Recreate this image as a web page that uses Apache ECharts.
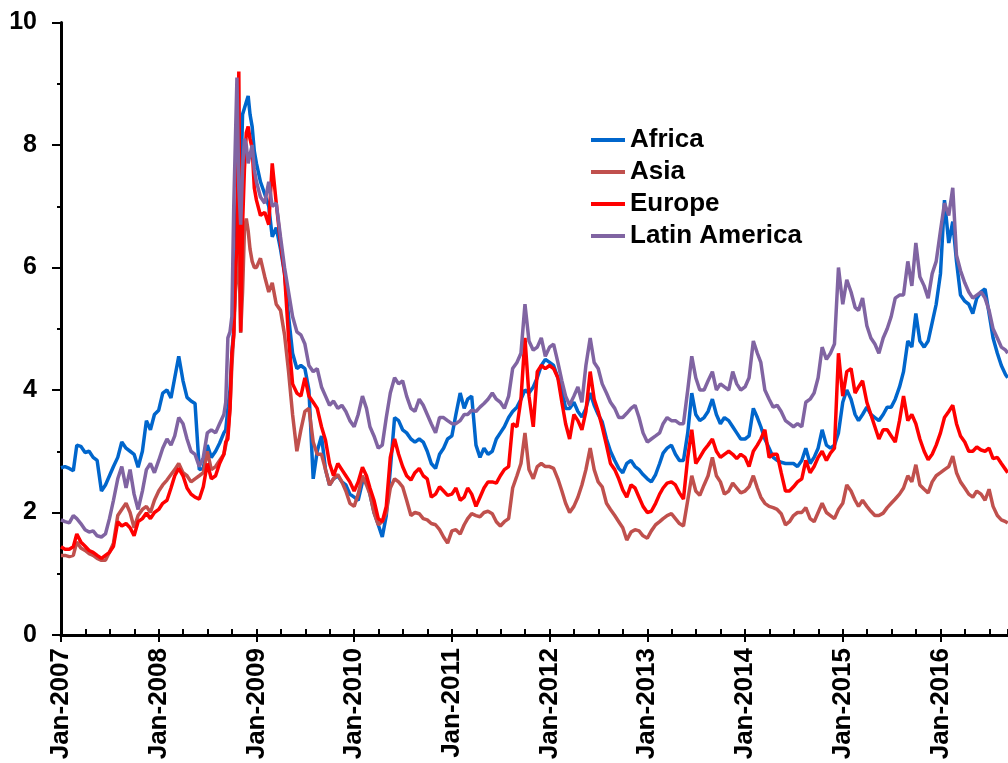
<!DOCTYPE html>
<html>
<head>
<meta charset="utf-8">
<title>Regional series, 2007–2016</title>
<script src="https://cdn.jsdelivr.net/npm/echarts@6/dist/echarts.min.js"></script>
<style>
  html, body { margin: 0; padding: 0; background: #fff; }
  #chart { width: 1008px; height: 763px; }
</style>
</head>
<body>
<div id="chart"></div>
<script>
// Observation dates: twice a month, weekly through the autumn 2008 turmoil.
const dates = [
  '2007-01-01','2007-01-16','2007-02-01','2007-02-16','2007-03-01','2007-03-16','2007-04-01','2007-04-16','2007-05-01','2007-05-16','2007-06-01','2007-06-16',
  '2007-07-01','2007-07-16','2007-08-01','2007-08-16','2007-09-01','2007-09-16','2007-10-01','2007-10-16','2007-11-01','2007-11-16','2007-12-01','2007-12-16',
  '2008-01-01','2008-01-16','2008-02-01','2008-02-16','2008-03-01','2008-03-16','2008-04-01','2008-04-16','2008-05-01','2008-05-16','2008-06-01','2008-06-16',
  '2008-07-01','2008-07-16','2008-08-01','2008-08-16',
  '2008-09-01','2008-09-08','2008-09-16','2008-09-24','2008-10-01','2008-10-08','2008-10-14','2008-10-20','2008-10-27',
  '2008-11-03','2008-11-10','2008-11-17','2008-11-24','2008-12-01','2008-12-08','2008-12-16','2008-12-24',
  '2009-01-01','2009-01-16','2009-02-01','2009-02-16','2009-03-01','2009-03-16','2009-04-01','2009-04-16','2009-05-01','2009-05-16','2009-06-01','2009-06-16',
  '2009-07-01','2009-07-16','2009-08-01','2009-08-16','2009-09-01','2009-09-16','2009-10-01','2009-10-16','2009-11-01','2009-11-16','2009-12-01','2009-12-16',
  '2010-01-01','2010-01-16','2010-02-01','2010-02-16','2010-03-01','2010-03-16','2010-04-01','2010-04-16','2010-05-01','2010-05-16','2010-06-01','2010-06-16',
  '2010-07-01','2010-07-16','2010-08-01','2010-08-16','2010-09-01','2010-09-16','2010-10-01','2010-10-16','2010-11-01','2010-11-16','2010-12-01','2010-12-16',
  '2011-01-01','2011-01-16','2011-02-01','2011-02-16','2011-03-01','2011-03-16','2011-04-01','2011-04-16','2011-05-01','2011-05-16','2011-06-01','2011-06-16',
  '2011-07-01','2011-07-16','2011-08-01','2011-08-16','2011-09-01','2011-09-16','2011-10-01','2011-10-16','2011-11-01','2011-11-16','2011-12-01','2011-12-16',
  '2012-01-01','2012-01-16','2012-02-01','2012-02-16','2012-03-01','2012-03-16','2012-04-01','2012-04-16','2012-05-01','2012-05-16','2012-06-01','2012-06-16',
  '2012-07-01','2012-07-16','2012-08-01','2012-08-16','2012-09-01','2012-09-16','2012-10-01','2012-10-16','2012-11-01','2012-11-16','2012-12-01','2012-12-16',
  '2013-01-01','2013-01-16','2013-02-01','2013-02-16','2013-03-01','2013-03-16','2013-04-01','2013-04-16','2013-05-01','2013-05-16','2013-06-01','2013-06-16',
  '2013-07-01','2013-07-16','2013-08-01','2013-08-16','2013-09-01','2013-09-16','2013-10-01','2013-10-16','2013-11-01','2013-11-16','2013-12-01','2013-12-16',
  '2014-01-01','2014-01-16','2014-02-01','2014-02-16','2014-03-01','2014-03-16','2014-04-01','2014-04-16','2014-05-01','2014-05-16','2014-06-01','2014-06-16',
  '2014-07-01','2014-07-16','2014-08-01','2014-08-16','2014-09-01','2014-09-16','2014-10-01','2014-10-16','2014-11-01','2014-11-16','2014-12-01','2014-12-16',
  '2015-01-01','2015-01-16','2015-02-01','2015-02-16','2015-03-01','2015-03-16','2015-04-01','2015-04-16','2015-05-01','2015-05-16','2015-06-01','2015-06-16',
  '2015-07-01','2015-07-16','2015-08-01','2015-08-16','2015-09-01','2015-09-16','2015-10-01','2015-10-16','2015-11-01','2015-11-16','2015-12-01','2015-12-16',
  '2016-01-01','2016-01-16','2016-02-01','2016-02-16','2016-03-01','2016-03-16','2016-04-01','2016-04-16','2016-05-01','2016-05-16','2016-06-01','2016-06-16',
  '2016-07-01','2016-07-16','2016-08-01','2016-08-16','2016-09-01','2016-09-09'
];

const africa = [
  2.73,2.75,2.72,2.68,3.1,3.08,2.98,3.0,2.9,2.85,2.35,2.45,2.6,2.75,2.9,3.15,3.05,3.0,2.95,2.74,3.0,3.5,3.35,3.6,
  3.67,3.95,4.0,3.87,4.2,4.55,4.15,3.88,3.82,3.78,2.7,2.72,3.1,2.9,3.0,3.13,
  3.3,3.35,3.7,4.0,4.6,5.0,5.8,7.0,7.8,7.3,8.5,8.6,8.7,8.8,8.5,8.3,7.9,
  7.7,7.4,7.2,7.0,6.5,6.65,6.3,5.9,5.2,4.6,4.35,4.4,4.35,4.0,2.55,3.0,3.25,2.7,2.45,2.55,2.6,2.5,2.45,2.3,
  2.25,2.2,2.5,2.55,2.3,2.0,1.8,1.6,1.95,2.7,3.55,3.5,3.35,3.3,3.2,3.15,3.2,3.15,3.0,2.8,2.72,2.95,3.05,3.2,
  3.25,3.6,3.95,3.7,3.85,3.9,3.1,2.9,3.05,2.95,3.0,3.2,3.3,3.4,3.55,3.65,3.72,3.85,4.0,3.95,4.05,4.2,4.4,4.5,
  4.45,4.4,4.2,4.0,3.7,3.7,3.8,3.65,3.56,3.7,3.95,3.75,3.6,3.48,3.2,3.0,2.85,2.72,2.65,2.8,2.85,2.75,2.7,2.62,
  2.55,2.5,2.62,2.8,2.97,3.05,3.1,2.95,2.85,2.85,3.3,3.95,3.6,3.5,3.55,3.65,3.85,3.6,3.45,3.55,3.5,3.4,3.3,3.2,
  3.2,3.25,3.7,3.55,3.4,3.2,3.05,2.9,2.85,2.82,2.8,2.8,2.8,2.75,2.85,3.05,2.8,2.9,3.05,3.35,3.1,3.05,3.1,3.3,
  3.8,4.0,3.85,3.6,3.5,3.6,3.72,3.6,3.55,3.5,3.6,3.72,3.72,3.85,4.05,4.3,4.8,4.7,5.25,4.8,4.7,4.8,5.1,5.4,
  5.9,7.1,6.4,6.75,6.1,5.55,5.45,5.4,5.25,5.5,5.6,5.65,5.25,4.85,4.6,4.4,4.25,4.2
];

const asia = [
  1.3,1.3,1.28,1.3,1.52,1.42,1.38,1.33,1.3,1.25,1.22,1.22,1.35,1.5,1.95,2.05,2.15,2.0,1.75,1.95,2.05,2.1,2.0,2.2,
  2.35,2.45,2.53,2.62,2.7,2.8,2.65,2.6,2.5,2.55,2.6,2.65,3.0,2.7,2.75,2.85,
  2.95,3.1,3.3,3.7,4.4,4.9,5.6,5.9,6.3,4.93,5.6,6.6,6.8,6.6,6.3,6.1,6.0,
  6.0,6.15,5.85,5.6,5.75,5.4,5.3,4.9,4.3,3.6,3.0,3.35,3.65,3.7,3.15,2.95,2.95,2.7,2.45,2.55,2.62,2.5,2.35,2.15,
  2.1,2.3,2.6,2.45,2.3,2.0,1.8,1.85,2.0,2.4,2.55,2.5,2.42,2.2,1.95,2.0,1.98,1.9,1.88,1.82,1.8,1.72,1.6,1.5,
  1.7,1.72,1.65,1.8,1.9,1.98,1.95,1.93,2.0,2.02,1.98,1.85,1.78,1.85,1.9,2.4,2.6,2.8,3.3,2.7,2.55,2.75,2.8,2.75,
  2.75,2.72,2.55,2.35,2.15,2.0,2.1,2.25,2.45,2.7,3.05,2.7,2.5,2.42,2.15,2.05,1.95,1.85,1.75,1.55,1.68,1.72,1.7,1.62,
  1.58,1.7,1.8,1.85,1.9,1.95,1.98,1.9,1.82,1.78,2.2,2.6,2.35,2.28,2.45,2.6,2.9,2.6,2.5,2.3,2.35,2.48,2.4,2.32,
  2.35,2.42,2.6,2.4,2.25,2.15,2.1,2.08,2.05,1.98,1.8,1.85,1.95,2.0,2.0,2.08,1.9,1.85,2.0,2.15,2.0,1.95,1.9,2.05,
  2.15,2.45,2.35,2.2,2.1,2.2,2.1,2.02,1.95,1.95,1.99,2.08,2.15,2.22,2.3,2.4,2.6,2.5,2.78,2.45,2.38,2.32,2.5,2.6,
  2.65,2.7,2.75,2.92,2.65,2.5,2.4,2.3,2.25,2.35,2.3,2.2,2.38,2.1,1.95,1.88,1.85,1.83
];

const europe = [
  1.44,1.4,1.4,1.44,1.65,1.52,1.45,1.38,1.35,1.3,1.25,1.3,1.35,1.45,1.85,1.78,1.82,1.75,1.62,1.85,1.9,1.99,1.9,2.0,
  2.05,2.15,2.2,2.4,2.6,2.72,2.6,2.4,2.3,2.25,2.22,2.42,2.8,2.55,2.6,2.8,
  2.95,3.15,3.2,3.7,4.6,4.9,6.0,6.3,9.2,4.95,6.7,7.6,8.2,8.3,8.1,7.95,7.3,
  7.1,6.85,6.9,6.7,7.7,7.05,6.4,5.9,4.85,4.1,3.95,3.9,4.2,3.9,3.8,3.7,3.4,3.18,2.8,2.6,2.8,2.7,2.6,2.5,
  2.35,2.5,2.74,2.6,2.4,2.2,1.9,1.85,2.1,2.9,3.2,2.95,2.75,2.6,2.53,2.65,2.72,2.6,2.55,2.25,2.3,2.42,2.35,2.28,
  2.3,2.4,2.2,2.25,2.4,2.3,2.1,2.25,2.4,2.5,2.5,2.48,2.6,2.7,2.75,3.45,3.4,3.85,4.85,3.9,3.4,4.3,4.4,4.35,
  4.4,4.35,4.2,3.8,3.45,3.2,3.6,3.5,3.35,3.65,4.3,3.85,3.65,3.4,3.1,2.8,2.7,2.55,2.37,2.25,2.45,2.4,2.25,2.1,
  2.0,2.02,2.15,2.3,2.4,2.48,2.5,2.45,2.32,2.22,2.9,3.35,2.8,2.9,3.02,3.1,3.2,3.0,2.9,2.95,3.0,2.95,2.88,2.95,
  2.9,2.75,3.0,3.1,3.2,3.35,2.9,2.95,2.95,2.65,2.35,2.35,2.42,2.5,2.55,2.85,2.65,2.75,2.9,3.0,2.85,2.97,3.05,4.6,
  3.9,4.3,4.35,3.95,4.05,4.15,3.8,3.6,3.4,3.2,3.35,3.35,3.25,3.15,3.5,3.9,3.5,3.6,3.45,3.2,3.0,2.86,2.95,3.1,
  3.3,3.55,3.65,3.75,3.45,3.25,3.15,3.0,3.0,3.07,3.02,3.0,3.05,2.88,2.9,2.8,2.7,2.65
];

const latinAmerica = [
  1.88,1.85,1.83,1.95,1.9,1.82,1.72,1.68,1.7,1.62,1.6,1.65,1.9,2.2,2.55,2.75,2.4,2.7,2.3,2.05,2.35,2.7,2.8,2.65,
  2.85,3.05,3.2,3.1,3.25,3.55,3.45,3.2,3.0,2.95,2.75,2.9,3.3,3.35,3.3,3.45,
  3.6,3.8,4.85,4.95,5.2,7.0,7.0,9.1,7.3,6.7,7.6,8.1,8.0,7.7,7.7,8.0,7.6,
  7.4,7.15,7.05,7.4,7.0,7.05,6.5,6.0,5.6,5.2,4.95,4.9,4.75,4.4,4.3,4.35,4.05,3.9,3.75,3.82,3.7,3.75,3.65,3.5,
  3.4,3.6,3.9,3.7,3.4,3.25,3.05,3.1,3.55,3.95,4.2,4.1,4.15,3.9,3.7,3.65,3.85,3.75,3.6,3.45,3.3,3.55,3.55,3.5,
  3.45,3.45,3.5,3.6,3.6,3.67,3.65,3.72,3.78,3.85,3.95,3.85,3.8,3.7,3.9,4.35,4.45,4.6,5.4,4.8,4.65,4.7,4.85,4.55,
  4.7,4.75,4.45,4.15,3.9,3.75,3.9,4.05,3.8,4.4,4.85,4.45,4.35,4.1,3.95,3.8,3.7,3.55,3.55,3.62,3.7,3.75,3.55,3.3,
  3.15,3.2,3.25,3.3,3.45,3.55,3.5,3.5,3.45,3.45,4.0,4.55,4.2,4.0,4.0,4.15,4.3,4.0,4.1,4.05,4.0,4.3,4.1,4.0,
  4.05,4.2,4.8,4.6,4.45,4.0,3.85,3.72,3.75,3.65,3.5,3.45,3.4,3.45,3.4,3.8,3.85,3.95,4.2,4.7,4.5,4.6,4.75,6.0,
  5.4,5.8,5.6,5.35,5.3,5.5,5.05,4.85,4.75,4.6,4.85,5.0,5.2,5.5,5.55,5.55,6.1,5.7,6.4,5.85,5.7,5.5,5.9,6.1,
  6.6,7.05,6.85,7.3,6.2,5.95,5.75,5.6,5.5,5.55,5.6,5.5,5.3,5.0,4.85,4.7,4.65,4.6
];

const yearLabels = ['Jan-2007','Jan-2008','Jan-2009','Jan-2010','Jan-2011','Jan-2012','Jan-2013','Jan-2014','Jan-2015','Jan-2016'];

// Convert an ISO date string into a fractional calendar year.
function toYear(s) {
  const [y, m, d] = s.split('-').map(Number);
  const start = Date.UTC(y, 0, 1);
  const end = Date.UTC(y + 1, 0, 1);
  return y + (Date.UTC(y, m - 1, d) - start) / (end - start);
}
const xs = dates.map(toYear);
const pairs = vals => vals.map((v, i) => [xs[i], v]);

const FONT = '"Liberation Sans", Arial, Helvetica, sans-serif';
const X_MIN = 2007;
const X_MAX = 2016.691;

const regions = [
  { name: 'Africa', color: '#0066CC', values: africa },
  { name: 'Asia', color: '#C0504D', values: asia },
  { name: 'Europe', color: '#FF0000', values: europe },
  { name: 'Latin America', color: '#8064A2', values: latinAmerica }
];

const chart = echarts.init(document.getElementById('chart'), null, { renderer: 'canvas' });

chart.setOption({
  animation: false,
  backgroundColor: '#ffffff',
  grid: {
    left: 61, right: 0, top: 22.5, bottom: 128,
    containLabel: false, outerBoundsMode: 'none'
  },
  legend: {
    orient: 'vertical',
    left: 586,
    top: 122,
    padding: 5,
    icon: 'rect',
    itemWidth: 34,
    itemHeight: 4,
    itemGap: 6,
    textStyle: { fontFamily: FONT, fontSize: 26, fontWeight: 'bold', color: '#000' },
    data: regions.map(r => r.name)
  },
  xAxis: [
    {
      type: 'value',
      min: X_MIN,
      max: X_MAX,
      interval: 1,
      axisLine: { show: true, onZero: false, lineStyle: { color: '#000', width: 3 } },
      axisTick: { show: true, length: 7, lineStyle: { color: '#000', width: 2 } },
      axisLabel: {
        rotate: 90,
        margin: 13,
        showMaxLabel: false,
        fontFamily: FONT,
        fontSize: 26,
        fontWeight: 'bold',
        color: '#000',
        formatter: v => {
          const r = Math.round(v);
          return Math.abs(v - r) < 1e-6 && r - X_MIN < yearLabels.length ? yearLabels[r - X_MIN] : '';
        }
      },
      splitLine: { show: false }
    },
    {
      // quarterly tick marks on the inner side of the date axis
      type: 'value',
      position: 'bottom',
      min: X_MIN,
      max: X_MAX,
      interval: 0.25,
      axisLine: { show: false },
      axisTick: { show: true, inside: true, length: 6, lineStyle: { color: '#000', width: 2 } },
      axisLabel: { show: false },
      splitLine: { show: false }
    }
  ],
  yAxis: {
    type: 'value',
    min: 0,
    max: 10,
    interval: 2,
    axisLine: { show: true, lineStyle: { color: '#000', width: 3 } },
    axisTick: { show: true, length: 9, lineStyle: { color: '#000', width: 2 } },
    minorTick: { show: true, splitNumber: 2, length: 4, lineStyle: { color: '#000', width: 2 } },
    axisLabel: { margin: 24, fontFamily: FONT, fontSize: 25, fontWeight: 'bold', color: '#000' },
    splitLine: { show: false }
  },
  series: regions.map(r => ({
    type: 'line',
    name: r.name,
    xAxisIndex: 0,
    yAxisIndex: 0,
    data: pairs(r.values),
    symbol: 'none',
    showSymbol: false,
    lineStyle: { width: 3.5, color: r.color },
    itemStyle: { color: r.color },
    emphasis: { disabled: true }
  }))
});
</script>
</body>
</html>
